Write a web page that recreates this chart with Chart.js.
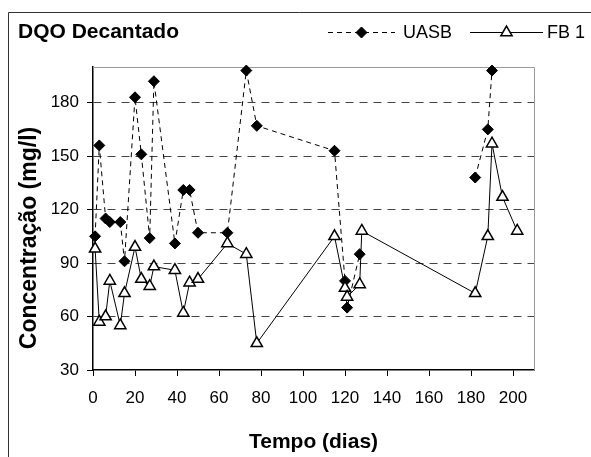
<!DOCTYPE html>
<html>
<head>
<meta charset="utf-8">
<script src="https://cdn.jsdelivr.net/npm/chart.js@4"></script>
<style>
  html, body { margin: 0; padding: 0; background: #fff; }
  #wrap { width: 591px; height: 457px; }
</style>
</head>
<body>
<div id="wrap"><canvas id="dqoChart" width="591" height="457"></canvas></div>
<script>
const FONT = "'Liberation Sans', Arial, sans-serif";

// sampling days and COD readings (mg/l); null = no sample that day
const uasbDays = [1, 3, 6, 8, 13, 15, 20, 23, 27, 29, 39, 43, 46, 50, 64, 73, 78, 115, 120, 121, 127, 128, 182, 188, 190];
const uasbValues = [105, 156, 115, 113, 113, 91, 183, 151, 104, 192, 101, 131, 131, 107, 107, 198, 167, 153, 80, 65, 95, null, 138, 165, 198];

const fbDays = [1, 3, 6, 8, 13, 15, 20, 23, 27, 29, 39, 43, 46, 50, 64, 73, 78, 115, 120, 121, 127, 128, 182, 188, 190, 195, 202];
const fbValues = [98, 57, 60, 80, 55, 73, 99, 81, 77, 88, 86, 62, 79, 81, 101, 95, 45, 105, 76, 71, 78, 108, 73, 105, 157, 127, 108];

const xTicks = [0, 20, 40, 60, 80, 100, 120, 140, 160, 180, 200];
const yTicks = [30, 60, 90, 120, 150, 180];

const seriesNames = ['UASB', 'FB 1'];
const chartTitle = 'DQO Decantado';
const yTitle = 'Concentração (mg/l)';
const xTitle = 'Tempo (dias)';

function toPoints(days, values) {
    return days.map((d, i) => ({ x: d, y: values[i] }));
}

// frame, titles and legend in the old spreadsheet style
const sheetDecor = {
    id: 'sheetDecor',

    beforeDraw(chart) {
        const ctx = chart.ctx;
        ctx.save();
        ctx.fillStyle = '#fff';
        ctx.fillRect(0, 0, chart.width, chart.height);
        ctx.restore();
    },

    beforeDatasetsDraw(chart) {
        const { ctx, chartArea } = chart;
        ctx.save();
        ctx.strokeStyle = '#9a9a9a';
        ctx.lineWidth = 1;
        ctx.beginPath();
        ctx.moveTo(chartArea.left, chartArea.top + 0.5);
        ctx.lineTo(chartArea.right + 0.5, chartArea.top + 0.5);
        ctx.lineTo(chartArea.right + 0.5, chartArea.bottom);
        ctx.stroke();
        ctx.restore();
    },

    afterDraw(chart) {
        const ctx = chart.ctx;
        ctx.save();

        // outer border
        ctx.strokeStyle = '#333';
        ctx.lineWidth = 1;
        ctx.beginPath();
        ctx.moveTo(8.5, chart.height);
        ctx.lineTo(8.5, 12.5);
        ctx.lineTo(chart.width, 12.5);
        ctx.stroke();

        // chart title
        ctx.fillStyle = '#000';
        ctx.font = 'bold 21px ' + FONT;
        ctx.textBaseline = 'alphabetic';
        ctx.textAlign = 'left';
        ctx.fillText(chartTitle, 18, 38);

        // vertical axis title
        ctx.save();
        ctx.translate(36, 238);
        ctx.rotate(-Math.PI / 2);
        ctx.textAlign = 'center';
        ctx.font = 'bold 23px ' + FONT;
        ctx.fillText(yTitle, 0, 0);
        ctx.restore();

        // legend
        const items = [
            { ds: chart.data.datasets[0], x1: 328, x2: 395, tx: 403 },
            { ds: chart.data.datasets[1], x1: 470, x2: 543, tx: 547 }
        ];
        const ly = 32.5;
        items.forEach(it => {
            const ds = it.ds;
            ctx.strokeStyle = ds.borderColor;
            ctx.lineWidth = ds.borderWidth;
            ctx.setLineDash(ds.borderDash || []);
            ctx.beginPath();
            ctx.moveTo(it.x1, ly);
            ctx.lineTo(it.x2, ly);
            ctx.stroke();
            ctx.setLineDash([]);

            ctx.fillStyle = ds.pointBackgroundColor;
            ctx.strokeStyle = ds.pointBorderColor;
            ctx.lineWidth = ds.pointBorderWidth;
            Chart.helpers.drawPoint(ctx, {
                pointStyle: ds.pointStyle,
                radius: ds.pointRadius,
                rotation: 0,
                borderWidth: ds.pointBorderWidth
            }, (it.x1 + it.x2) / 2, ly);

            ctx.fillStyle = '#000';
            ctx.font = '18px ' + FONT;
            ctx.fillText(ds.label, it.tx, 38);
        });

        ctx.restore();
    }
};

new Chart(document.getElementById('dqoChart'), {
    type: 'scatter',

    plugins: [sheetDecor],

    data: {
        datasets: [{
            label: seriesNames[0],
            data: toPoints(uasbDays, uasbValues),
            showLine: true,
            spanGaps: false,
            borderColor: '#000',
            borderWidth: 1,
            borderDash: [5, 4],
            pointStyle: 'rectRot',
            pointRadius: 5.5,
            pointBackgroundColor: '#000',
            pointBorderColor: '#000',
            pointBorderWidth: 1,
            order: 1
        }, {
            label: seriesNames[1],
            data: toPoints(fbDays, fbValues),
            showLine: true,
            borderColor: '#000',
            borderWidth: 1,
            pointStyle: 'triangle',
            pointRadius: 6.5,
            pointBackgroundColor: '#fff',
            pointBorderColor: '#000',
            pointBorderWidth: 1.5,
            order: 0
        }]
    },

    options: {
        responsive: false,
        animation: false,
        devicePixelRatio: 1,
        clip: false,

        layout: {
            padding: { left: 8, top: 67, right: 57, bottom: 0 }
        },

        plugins: {
            legend: { display: false },
            tooltip: { enabled: false }
        },

        scales: {
            x: {
                type: 'linear',
                min: 0,
                max: 210,
                afterBuildTicks: axis => {
                    axis.ticks = xTicks.map(v => ({ value: v }));
                },
                afterFit: axis => { axis.height = 87; },
                ticks: {
                    color: '#000',
                    font: { family: FONT, size: 17 },
                    padding: 12,
                    maxRotation: 0
                },
                grid: {
                    drawOnChartArea: false,
                    tickLength: 6,
                    tickColor: '#000'
                },
                border: { color: '#000', width: 1.5 },
                title: {
                    display: true,
                    text: xTitle,
                    color: '#000',
                    font: { family: FONT, size: 21, weight: 'bold' },
                    padding: { top: 0, bottom: 2 }
                }
            },
            y: {
                min: 30,
                max: 200,
                afterBuildTicks: axis => {
                    axis.ticks = yTicks.map(v => ({ value: v }));
                },
                afterFit: axis => { axis.width = 85; },
                ticks: {
                    color: '#000',
                    font: { family: FONT, size: 17 },
                    padding: 8
                },
                grid: {
                    color: ctx => (ctx.tick && ctx.tick.value === 30) ? 'rgba(0,0,0,0)' : '#444',
                    lineWidth: 1,
                    tickLength: 6,
                    tickColor: '#000'
                },
                border: { color: '#000', width: 1.5, dash: [8, 6] }
            }
        }
    }
});
</script>
</body>
</html>
